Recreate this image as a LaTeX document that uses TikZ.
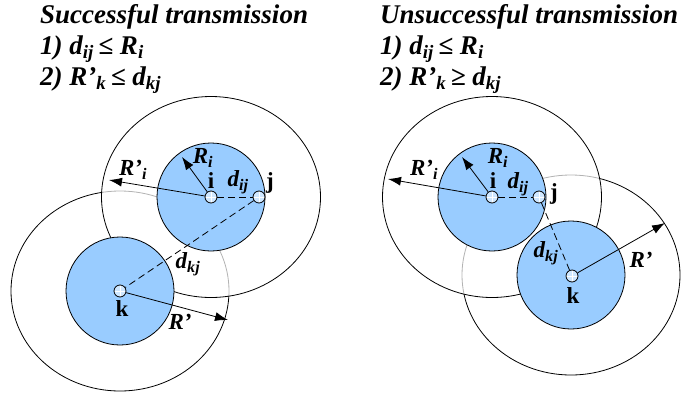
\documentclass[tikz,border=0pt]{standalone}
\usepackage{fontspec}
\setmainfont{Liberation Serif}
\usetikzlibrary{arrows.meta}
\definecolor{zoneblue}{HTML}{99CCFF}
\definecolor{nodefill}{HTML}{CFE7FF}
\begin{document}
\begin{tikzpicture}[x=1pt,y=-1pt,
 outerline/.style={draw=black,line width=0.8pt},
 zone/.style={draw=black,fill=zoneblue,line width=0.8pt},
 station/.style={circle,draw=black,fill=nodefill,line width=0.8pt,minimum size=12pt,inner sep=0pt,
   path picture={\draw[white,line width=0.6pt] (path picture bounding box.north) -- (path picture bounding box.south)
     (path picture bounding box.west) -- (path picture bounding box.east);}},
 link/.style={dash pattern=on 7pt off 4pt,line width=0.8pt},
 radarrow/.style={-{Latex[length=13pt,width=9pt]},line width=0.8pt},
 titletext/.style={font=\fontsize{27}{32}\selectfont\bfseries\itshape,anchor=base west,inner sep=0pt},
 lbl/.style={font=\fontsize{23}{26}\selectfont\bfseries\itshape,inner sep=0pt},
 nlbl/.style={font=\fontsize{23}{26}\selectfont\bfseries,inner sep=0pt}]
\useasboundingbox[fill=white] (0,0) rectangle (685,394);

% ---------- titles
\node[titletext] (t1) at (40,23) {Successful transmission};
\node[titletext] (t2) at (40,54) {1) d\textsubscript{ij}\,≤ R\textsubscript{i}};
\node[titletext] (t3) at (40,85) {2) R’\textsubscript{k}\,≤ d\textsubscript{kj}};
\node[titletext] (u1) at (380,23) {Unsuccessful transmission};
\node[titletext] (u2) at (380,54) {1) d\textsubscript{ij}\,≤ R\textsubscript{i}};
\node[titletext] (u3) at (380,85) {2) R’\textsubscript{k}\,≥ d\textsubscript{kj}};

% ---------- left panel
\coordinate (Ic) at (211,197);
\coordinate (Kc) at (120,291);
\fill[white] (Kc) ellipse [x radius=109,y radius=100];
\draw[outerline] (Kc) ellipse [x radius=109,y radius=100];
\fill[white,fill opacity=0.7] (Ic) ellipse [x radius=109.5,y radius=100.5];
\draw[outerline] (Ic) ellipse [x radius=109.5,y radius=100.5];
\draw[zone] (Ic) circle [radius=54];
\draw[zone] (Kc) circle [radius=54];
\node[station] (i1) at (Ic) {};
\node[station] (j1) at (259,197) {};
\node[station] (k1) at (Kc) {};
\draw[link] (i1) -- (j1);
\draw[link] (j1) -- (k1);
\coordinate (ti1) at (109,180);
\coordinate (ri1) at (182,157);
\coordinate (rk1) at (228,320);
\draw[radarrow] (i1) -- (ti1);
\draw[radarrow] (i1) -- (ri1);
\draw[radarrow] (k1) -- (rk1);
\node[lbl] (lRpi1) at (133,170) {R’\textsubscript{i}};
\node[lbl] (lRi1) at (203,158) {R\textsubscript{i}};
\node[nlbl] (li1) at (211,181) {i};
\node[nlbl] (lj1) at (270,183) {j};
\node[lbl] (ldij1) at (238,182) {d\textsubscript{ij}};
\node[lbl] (ldkj1) at (188,264) {d\textsubscript{kj}};
\node[nlbl] (lk1) at (122,309) {k};
\node[lbl] (lRp1) at (180,322) {R’};

% ---------- right panel
\coordinate (Ic2) at (492,197);
\coordinate (Kc2) at (571,275);
\fill[white] (Kc2) ellipse [x radius=109,y radius=100];
\draw[outerline] (Kc2) ellipse [x radius=109,y radius=100];
\fill[white,fill opacity=0.7] (Ic2) ellipse [x radius=109.5,y radius=100.5];
\draw[outerline] (Ic2) ellipse [x radius=109.5,y radius=100.5];
\draw[zone] (Ic2) circle [radius=54];
\draw[zone] (Kc2) circle [radius=54];
\node[station] (i2) at (Ic2) {};
\node[station] (j2) at (539,197) {};
\node[station] (k2) at (572,276) {};
\draw[link] (i2) -- (j2);
\draw[link] (j2) -- (k2);
\coordinate (ti2) at (388,179);
\coordinate (ri2) at (462,157);
\coordinate (rk2) at (665,223);
\draw[radarrow] (i2) -- (ti2);
\draw[radarrow] (i2) -- (ri2);
\draw[radarrow] (k2) -- (rk2);
\node[lbl] (lRpi2) at (424,170) {R’\textsubscript{i}};
\node[lbl] (lRi2) at (498,158) {R\textsubscript{i}};
\node[nlbl] (li2) at (493,181) {i};
\node[nlbl] (lj2) at (554,194) {j};
\node[lbl] (ldij2) at (518,184) {d\textsubscript{ij}};
\node[lbl] (ldkj2) at (546,253) {d\textsubscript{kj}};
\node[nlbl] (lk2) at (573,296) {k};
\node[lbl] (lRp2) at (641,260) {R’};
\end{tikzpicture}
\end{document}
